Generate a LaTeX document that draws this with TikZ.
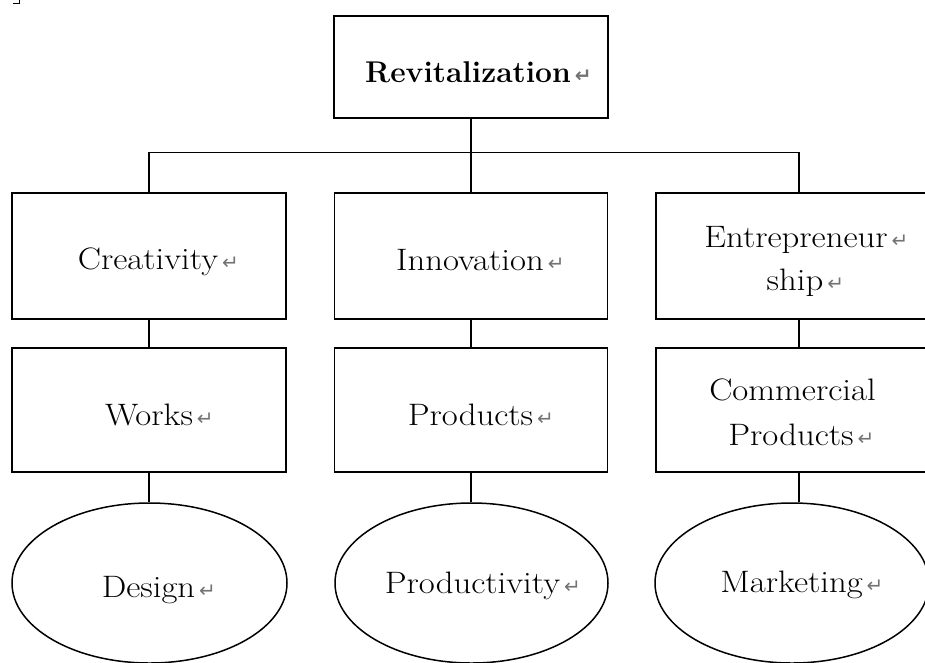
\documentclass[tikz,border=0pt]{standalone}
\usepackage{fontspec}
\usetikzlibrary{shapes.geometric}
\newfontfamily\symfont{DejaVu Sans}
\newfontfamily\widefont{Latin Modern Roman}[FakeStretch=1.12]
\newcommand\retmark{\rlap{\kern4pt{\symfont\fontsize{20}{20}\selectfont\color{black!55}↵}}}
\begin{document}
\begin{tikzpicture}[x=1pt,y=-1pt,
  box/.style={draw, line width=1.5pt, inner sep=0pt, minimum height=#1},
  box/.default=125pt,
  oval/.style={draw, ellipse, line width=1.5pt, inner sep=0pt, minimum height=160pt},
  txt/.style={anchor=base, inner sep=0pt, font=\widefont\fontsize{31}{38}\selectfont},
  link/.style={line width=1.5pt}]
\useasboundingbox (0,0) rectangle (925,662);
\clip (0,0) rectangle (925,662);
% corner mark
\draw[line width=1pt] (13,3) -- (19.5,3) -- (19.5,0);
% boxes
\node[box=102pt, minimum width=274pt] (top) at (471,67) {};
\node[box=126pt, minimum width=274pt] (l1) at (149,256) {};
\node[box=126pt, minimum width=273pt] (m1) at (471,256) {};
\node[box=126pt, minimum width=286pt] (r1) at (799,256) {};
\node[box=124pt, minimum width=274pt] (l2) at (149,410) {};
\node[box=124pt, minimum width=273pt] (m2) at (471,410) {};
\node[box=124pt, minimum width=286pt] (r2) at (799,410) {};
\node[oval, minimum width=275pt] (e1) at (149.5,583) {};
\node[oval, minimum width=273pt] (e2) at (471.5,583) {};
\node[oval, minimum width=274pt] (e3) at (792,583) {};
% texts
\node[txt, font=\fontsize{30}{36}\selectfont\bfseries] (ttop) at (468,82) {Revitalization\retmark};
\node[txt] (tl1) at (148,269) {Creativity\retmark};
\node[txt] (tm1) at (470,270) {Innovation\retmark};
\node[txt] (tr1a) at (796,247) {Entrepreneur\retmark};
\node[txt] (tr1b) at (795,290) {ship\retmark};
\node[txt] (tl2) at (149,425) {Works\retmark};
\node[txt] (tm2) at (470.5,425) {Products\retmark};
\node[txt] (tr2a) at (792.5,400) {Commercial};
\node[txt] (tr2b) at (791,445) {Products\retmark};
\node[txt] (te1) at (148.5,597) {Design\retmark};
\node[txt] (te2) at (472.5,593) {Productivity\retmark};
\node[txt] (te3) at (791.5,592) {Marketing\retmark};
% connectors
\draw[link] (top.south) -- (m1.north);
\draw[link] (l1.north) -- ++(0,-40) -| (r1.north);
\draw[link] (l1.south) -- (l2.north);
\draw[link] (m1.south) -- (m2.north);
\draw[link] (r1.south) -- (r2.north);
\draw[link] (l2.south) -- (l2.south |- e1.north);
\draw[link] (m2.south) -- (m2.south |- e2.north);
\draw[link] (r2.south) -- (r2.south |- e3.north);
\end{tikzpicture}
\end{document}
